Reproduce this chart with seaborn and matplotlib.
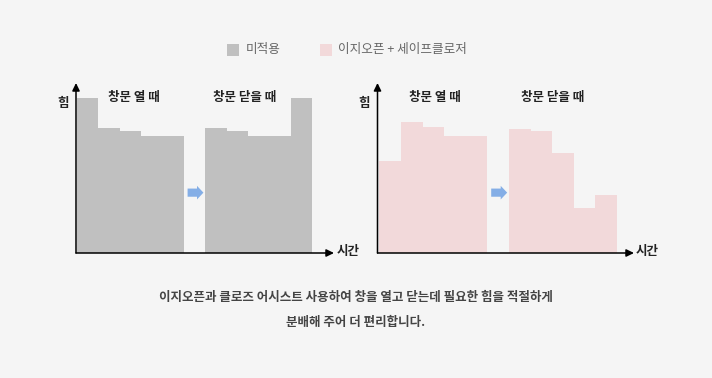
import matplotlib
matplotlib.use("Agg")
import matplotlib.pyplot as plt
from matplotlib.patches import FancyArrow, Rectangle
import seaborn as sns
import pandas as pd

# ---- data ----
slots = list(range(11))
before_vals = [91, 73.4, 71.8, 68.6, 68.6, 0, 73.4, 71.8, 68.6, 68.6, 91]
after_vals = [54.3, 76.9, 74.1, 68.6, 68.6, 0, 73.1, 71.6, 58.6, 26.5, 34.1]
legend_labels = ["미적용", "이지오픈 + 세이프클로저"]
phase_labels = ["창문 열 때", "창문 닫을 때"]
y_label = "힘"
x_label = "시간"
caption_lines = ["이지오픈과 클로즈 어시스트 사용하여 창을 열고 닫는데 필요한 힘을 적절하게",
                 "분배해 주어 더 편리합니다."]

GRAY = "#c0c0c0"
PINK = "#f2d9da"
BLUE = "#84aee6"
BG = "#f5f5f5"

plt.rcParams['font.family'] = ['Noto Sans CJK KR', 'DejaVu Sans']

W, H = 712, 378
fig = plt.figure(figsize=(W / 100, H / 100), dpi=100)
fig.patch.set_facecolor(BG)


def px_axes(l, t, r, b):
    return fig.add_axes([l / W, 1 - b / H, (r - l) / W, (b - t) / H])


def ftext(x, y, s, **kw):
    fig.text(x / W, 1 - y / H, s, ha='center', va='center', **kw)


def draw_chart(ax, vals, color, xlo, xhi, label_px, ylab_px, xlab_px):
    df = pd.DataFrame({"slot": [str(s) for s in slots], "value": vals})
    sns.barplot(data=df, x="slot", y="value", order=[str(s) for s in slots],
                color=color, width=1.0, linewidth=0, saturation=1, ax=ax)
    ax.set_xlim(xlo, xhi)
    ax.set_ylim(0, 100)
    ax.set_facecolor('none')
    for sp in ax.spines.values():
        sp.set_visible(False)
    ax.set_xticks([])
    ax.set_yticks([])
    ax.set_xlabel("")
    ax.set_ylabel("")
    ap = dict(arrowstyle='-|>,head_length=0.45,head_width=0.22', lw=1.1,
              color='black', shrinkA=0, shrinkB=0)
    ax.annotate('', xy=(1, 0), xytext=(0, 0), xycoords='axes fraction', arrowprops=ap,
                annotation_clip=False)
    ax.annotate('', xy=(0, 1), xytext=(0, 0), xycoords='axes fraction', arrowprops=ap,
                annotation_clip=False)
    # blue arrow in gap
    ax.add_patch(FancyArrow(4.68, 35.5, 0.74, 0, width=4.8, head_width=8.0,
                            head_length=0.3, length_includes_head=True,
                            color=BLUE, lw=0, clip_on=False))
    for (lx, ly), s in zip(label_px, phase_labels):
        ftext(lx, ly, s, fontsize=9, fontweight='bold', color='#222222')
    ftext(ylab_px[0], ylab_px[1], y_label, fontsize=9, fontweight='bold', color='#222222')
    ftext(xlab_px[0], xlab_px[1], x_label, fontsize=9, fontweight='bold', color='#222222')


ax1 = px_axes(76, 83, 334, 253)
draw_chart(ax1, before_vals, GRAY, -0.533, 11.52,
           [(134, 98), (244.5, 98)], (63, 103), (348.5, 252))
ax2 = px_axes(377.5, 83, 634, 253)
draw_chart(ax2, after_vals, PINK, -0.583, 11.29,
           [(435.3, 98), (553, 98)], (364, 103), (647, 252))

# legend
fig.patches.append(Rectangle((227.3 / W, 1 - 56 / H), 12 / W, 12 / H,
                             transform=fig.transFigure, color=GRAY, lw=0))
fig.text(246 / W, 1 - 49.5 / H, legend_labels[0], ha='left', va='center',
         fontsize=9.1, color='#666666')
fig.patches.append(Rectangle((320 / W, 1 - 56 / H), 12 / W, 12 / H,
                             transform=fig.transFigure, color=PINK, lw=0))
fig.text(337.5 / W, 1 - 49.5 / H, legend_labels[1], ha='left', va='center',
         fontsize=9.1, color='#666666')

# caption
ftext(356, 298, caption_lines[0], fontsize=9.0, fontweight='bold', color='#444444')
ftext(356, 322.5, caption_lines[1], fontsize=9.0, fontweight='bold', color='#444444')

fig.savefig("out.png", dpi=100, facecolor=BG)
